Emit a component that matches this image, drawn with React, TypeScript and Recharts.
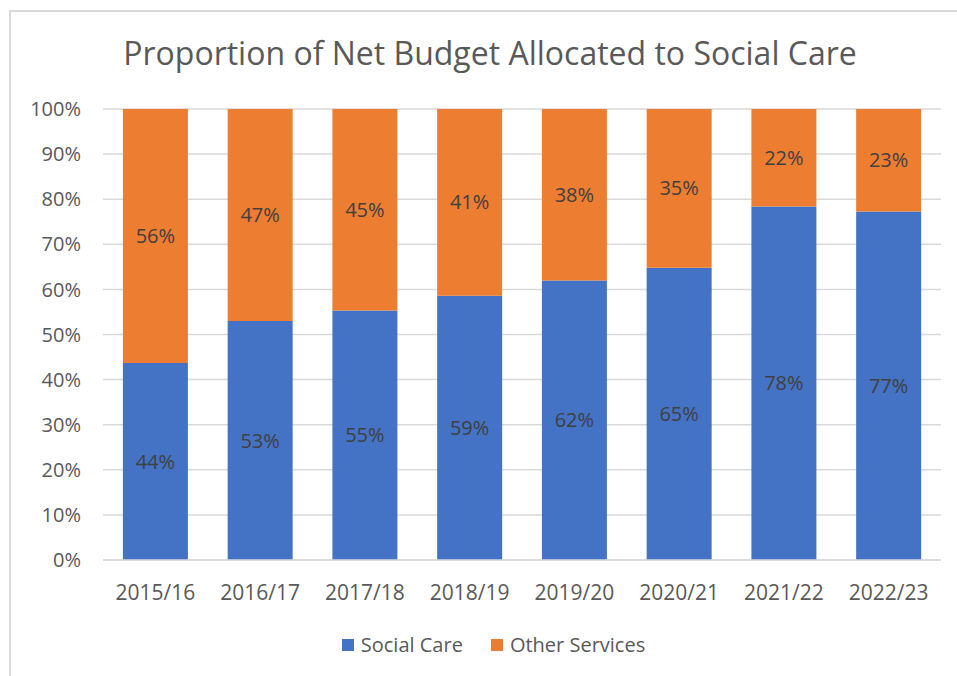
import { BarChart, Bar, XAxis, YAxis, CartesianGrid, LabelList } from "recharts"

const years = ["2015/16", "2016/17", "2017/18", "2018/19", "2019/20", "2020/21", "2021/22", "2022/23"]
const socialCare = [43.7, 53.0, 55.3, 58.6, 62.0, 64.8, 78.4, 77.3]
const otherServices = [56.3, 47.0, 44.7, 41.4, 38.0, 35.2, 21.6, 22.7]
const yTicks = [0, 10, 20, 30, 40, 50, 60, 70, 80, 90, 100]

const series = [
  { key: "socialCare", name: "Social Care", color: "#4472C4" },
  { key: "otherServices", name: "Other Services", color: "#ED7D31" },
]

const data = years.map((year, i) => ({
  year,
  socialCare: socialCare[i],
  otherServices: otherServices[i],
}))

const font = "'Open Sans', sans-serif"

export default function App() {
  return (
    <div
      style={{
        position: "fixed",
        left: 0,
        top: 0,
        width: 957,
        height: 676,
        overflow: "hidden",
        background: "#fff",
        fontFamily: font,
      }}
    >
      <div
        style={{
          position: "absolute",
          left: 9,
          top: 10,
          width: 980,
          height: 700,
          borderLeft: "2px solid #d9d9d9",
          borderTop: "2px solid #d9d9d9",
        }}
      />
      <div
        style={{
          position: "absolute",
          left: 0,
          top: 33,
          width: 980,
          textAlign: "center",
          fontSize: 32,
          color: "#595959",
          lineHeight: "40px",
        }}
      >
        Proportion of Net Budget Allocated to Social Care
      </div>
      <div style={{ position: "absolute", left: 0, top: 0 }}>
        <BarChart
          width={957}
          height={676}
          data={data}
          margin={{ top: 109, right: 16, bottom: 86, left: 0 }}
          barCategoryGap="19%"
        >
          <CartesianGrid vertical={false} stroke="#d9d9d9" strokeWidth={1.5} />
          <XAxis
            dataKey="year"
            tickLine={false}
            axisLine={{ stroke: "#d9d9d9", strokeWidth: 1.5 }}
            tickSize={0}
            tickMargin={25}
            tick={{ fill: "#595959", fontSize: 21, fontFamily: font }}
          />
          <YAxis
            width={103}
            domain={[0, 100]}
            ticks={yTicks}
            tickFormatter={(v) => `${v}%`}
            axisLine={false}
            tickLine={false}
            tickSize={0}
            tickMargin={22}
            tick={{ fill: "#595959", fontSize: 20, fontFamily: font }}
          />
          {series.map((s) => (
            <Bar key={s.key} dataKey={s.key} name={s.name} stackId="a" fill={s.color} isAnimationActive={false}>
              <LabelList
                dataKey={s.key}
                position="center"
                formatter={(v: any) => `${Math.round(Number(v))}%`}
                fill="#404040"
                style={{ fontSize: 20, fontFamily: font }}
              />
            </Bar>
          ))}
        </BarChart>
      </div>
      <div
        style={{
          position: "absolute",
          left: 0,
          top: 631,
          width: 987,
          display: "flex",
          justifyContent: "center",
          gap: 28,
          fontSize: 20,
          color: "#595959",
        }}
      >
        {series.map((s) => (
          <div key={s.key} style={{ display: "flex", alignItems: "center", gap: 7 }}>
            <span style={{ width: 12, height: 12, background: s.color, display: "inline-block" }} />
            <span>{s.name}</span>
          </div>
        ))}
      </div>
    </div>
  )
}
